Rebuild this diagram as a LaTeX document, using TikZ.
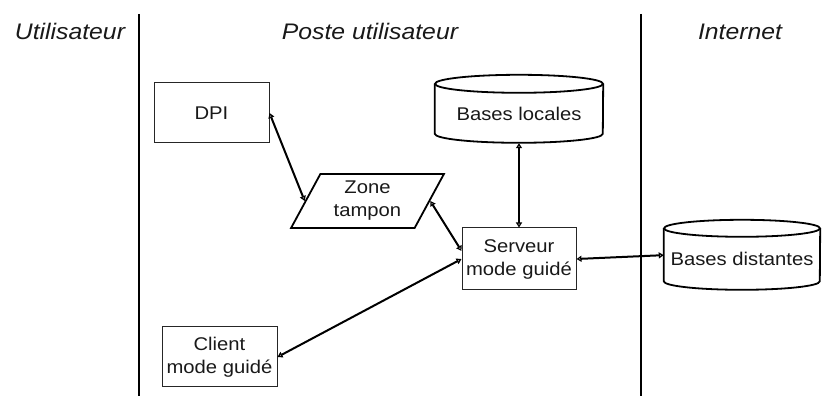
\documentclass[tikz,border=0pt]{standalone}
\usepackage{fontspec}
\setmainfont{Liberation Sans}[FakeStretch=1.1]
\usetikzlibrary{shapes.geometric,arrows.meta}
\begin{document}
\begin{tikzpicture}[x=1pt,y=1pt,
  every node/.style={inner sep=0pt,font=\fontsize{18.4}{23}\selectfont,align=center,text=black!90},
  header/.style={font=\fontsize{22.5}{26}\selectfont\itshape,anchor=base},
  lane/.style={line width=1.8pt},
  box/.style={draw=black!85,line width=1pt,rectangle},
  dbbody/.style={rectangle},
  dbline/.style={line width=1.8pt},
  para/.style={draw,line width=1.8pt,shape=trapezium,trapezium left angle=62,
    trapezium right angle=118,trapezium stretches=true},
  link/.style={line width=2pt,{Triangle[open,length=5pt,width=6pt]}-{Triangle[open,length=5pt,width=6pt]}}]
\useasboundingbox (0,0) rectangle (822,396);

% swimlane separators and titles
\coordinate (l1t) at (139,382); \coordinate (l1b) at (139,0);
\coordinate (l2t) at (641,382); \coordinate (l2b) at (641,0);
\draw[lane] (l1t) -- (l1b);
\draw[lane] (l2t) -- (l2b);
\node[header] (hu) at (70,356) {Utilisateur};
\node[header] (hp) at (370,356) {Poste utilisateur};
\node[header] (hi) at (740,356) {Internet};

% plain boxes
\node[box,minimum width=115,minimum height=60] (dpi) at (211.5,283) {DPI};
\node[box,minimum width=114,minimum height=62] (serveur) at (519,137) {Serveur\\mode guidé};
\node[box,minimum width=115,minimum height=60] (client) at (219.5,39) {Client\\mode guidé};

% buffer zone
\node[para,minimum width=153,minimum height=54] (zone) at (367.5,195) {Zone\\tampon};

% local databases (cylinder)
\node[dbbody,minimum width=168,minimum height=59] (bl) at (519,282.5) {Bases locales};
\draw[dbline] (bl.north west) -- ([yshift=-50pt]bl.north west)
  arc[start angle=180,end angle=360,x radius=84,y radius=9] -- (bl.north east);
\draw[dbline] (bl.north) ellipse[x radius=84,y radius=9];

% remote databases (cylinder)
\node[dbbody,minimum width=156,minimum height=61.5] (bd) at (742,136.75) {Bases distantes};
\draw[dbline] (bd.north west) -- ([yshift=-53pt]bd.north west)
  arc[start angle=180,end angle=360,x radius=78,y radius=8.5] -- (bd.north east);
\draw[dbline] (bd.north) ellipse[x radius=78,y radius=8.5];

% connectors
\draw[link] (dpi.east) -- (zone.west);
\draw[link] (zone.east) -- (serveur.172);
\draw[link] (client.east) -- (serveur.west);
\draw[link] (bl.south) -- (serveur.north);
\draw[link] (serveur.east) -- (bd.177);
\end{tikzpicture}
\end{document}
